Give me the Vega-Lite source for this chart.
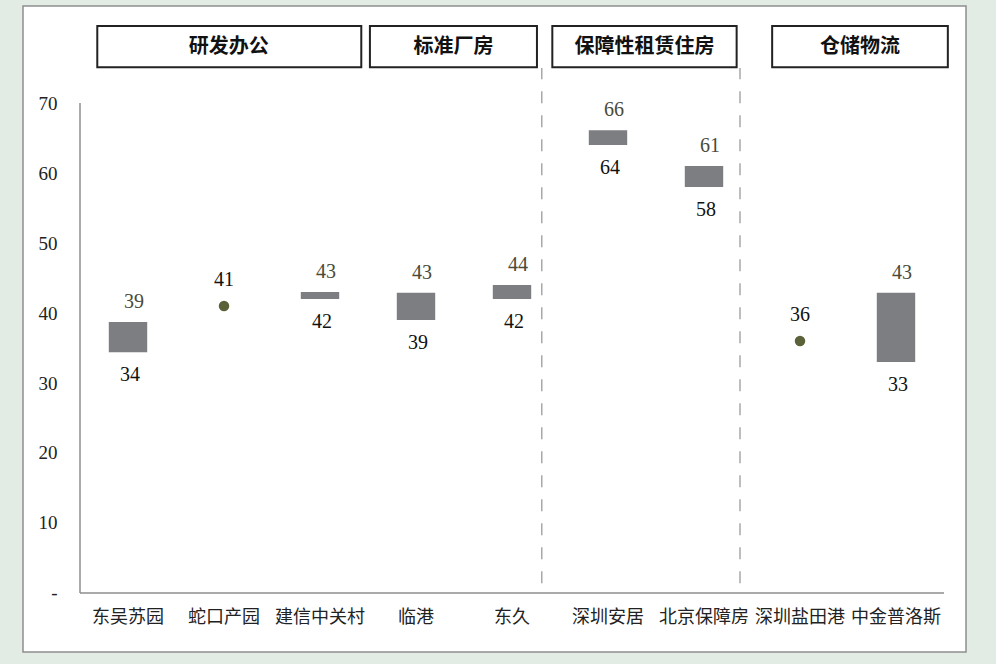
{
  "$schema": "https://vega.github.io/schema/vega-lite/v6.json",
  "width": 943,
  "height": 646,
  "autosize": {"type": "none"},
  "padding": {"left": 23, "top": 6, "right": 30, "bottom": 12},
  "background": "#e3ebe5",
  "config": {"view": {"fill": "white", "stroke": "#8e8e8e", "strokeWidth": 1.5}},
  "datasets": {
    "parks": [
      {"cat": "东吴苏园", "kind": "range", "low": 34.4, "high": 38.7},
      {"cat": "蛇口产园", "kind": "point", "low": 41, "high": 41},
      {"cat": "建信中关村", "kind": "range", "low": 42.0, "high": 43.0},
      {"cat": "临港", "kind": "range", "low": 39.0, "high": 42.9},
      {"cat": "东久", "kind": "range", "low": 42.0, "high": 44.0},
      {"cat": "深圳安居", "kind": "range", "low": 64.0, "high": 66.1},
      {"cat": "北京保障房", "kind": "range", "low": 58.0, "high": 61.0},
      {"cat": "深圳盐田港", "kind": "point", "low": 36, "high": 36},
      {"cat": "中金普洛斯", "kind": "range", "low": 33.0, "high": 42.9}
    ]
  },
  "layer": [
    {
      "data": {"name": "parks"},
      "transform": [{"filter": "datum.kind === 'range'"}],
      "mark": {"type": "bar", "width": {"band": 0.4}, "color": "#7d7e82"},
      "encoding": {
        "x": {"field": "cat", "type": "nominal", "sort": null,
          "scale": {"type": "band", "domain": ["东吴苏园","蛇口产园","建信中关村","临港","东久","深圳安居","北京保障房","深圳盐田港","中金普洛斯"], "paddingInner": 0, "paddingOuter": 0.4115, "align": 0.7215},
          "axis": {"orient": "bottom", "offset": -59, "domain": false, "ticks": false, "grid": false, "title": null, "labelPadding": 15, "labelFont": "Noto Sans CJK SC", "labelFontSize": 18, "labelColor": "#222", "labelAngle": 0}},
        "y": {"field": "low", "type": "quantitative",
          "scale": {"domain": [-8.43, 83.86], "nice": false, "zero": false},
          "axis": {"orient": "left", "offset": -57, "values": [0,10,20,30,40,50,60,70], "labelExpr": "datum.value === 0 ? '-\u00a0\u00a0\u00a0' : datum.label", "domain": false, "ticks": false, "grid": false, "title": null, "labelPadding": 23, "labelFont": "Liberation Serif", "labelFontSize": 19, "labelColor": "#222"}},
        "y2": {"field": "high"}
      }
    },
    {
      "data": {"name": "parks"},
      "transform": [{"filter": "datum.kind === 'point'"}],
      "mark": {"type": "circle", "size": 110, "color": "#5b6239", "opacity": 1},
      "encoding": {
        "x": {"field": "cat", "type": "nominal", "sort": null},
        "y": {"field": "low", "type": "quantitative"}
      }
    },
    {
      "data": {"name": "parks"},
      "transform": [{"filter": "datum.kind === 'range'"}],
      "mark": {"type": "text", "font": "Liberation Serif", "fontSize": 20, "color": "#4a4a3a", "dx": 6, "dy": -20},
      "encoding": {
        "x": {"field": "cat", "type": "nominal", "sort": null},
        "y": {"field": "high", "type": "quantitative"},
        "text": {"field": "high", "type": "quantitative", "format": ".0f"}
      }
    },
    {
      "data": {"name": "parks"},
      "transform": [{"filter": "datum.kind === 'range'"}],
      "mark": {"type": "text", "font": "Liberation Serif", "fontSize": 20, "color": "#111", "dx": 2, "dy": 23},
      "encoding": {
        "x": {"field": "cat", "type": "nominal", "sort": null},
        "y": {"field": "low", "type": "quantitative"},
        "text": {"field": "low", "type": "quantitative", "format": ".0f"}
      }
    },
    {
      "data": {"name": "parks"},
      "transform": [{"filter": "datum.kind === 'point'"}],
      "mark": {"type": "text", "font": "Liberation Serif", "fontSize": 20, "color": "#111", "dy": -26},
      "encoding": {
        "x": {"field": "cat", "type": "nominal", "sort": null},
        "y": {"field": "low", "type": "quantitative"},
        "text": {"field": "low", "type": "quantitative", "format": ".0f"}
      }
    },
    {
      "data": {"values": [{}]},
      "mark": {"type": "rule", "color": "#8e8e8e", "strokeWidth": 1.5},
      "encoding": {
        "x": {"datum": "东吴苏园", "type": "nominal", "bandPosition": 0},
        "y": {"datum": 0, "type": "quantitative"},
        "y2": {"datum": 70}
      }
    },
    {
      "data": {"values": [{}]},
      "mark": {"type": "rule", "color": "#8e8e8e", "strokeWidth": 1.5},
      "encoding": {
        "x": {"datum": "东吴苏园", "type": "nominal", "bandPosition": 0},
        "x2": {"datum": "中金普洛斯", "bandPosition": 1},
        "y": {"datum": 0, "type": "quantitative"}
      }
    },
    {
      "data": {"values": [{}]},
      "mark": {"type": "rule", "color": "#a8a8a8", "strokeWidth": 1.5, "strokeDash": [12, 12]},
      "encoding": {
        "x": {"datum": "东久", "type": "nominal", "bandPosition": 0.81},
        "y": {"datum": 1.4, "type": "quantitative"},
        "y2": {"datum": 75}
      }
    },
    {
      "data": {"values": [{}]},
      "mark": {"type": "rule", "color": "#a8a8a8", "strokeWidth": 1.5, "strokeDash": [12, 12]},
      "encoding": {
        "x": {"datum": "北京保障房", "type": "nominal", "bandPosition": 0.875},
        "y": {"datum": 1.4, "type": "quantitative"},
        "y2": {"datum": 75}
      }
    },
    {
      "data": {"values": [{"group": "研发办公"}]},
      "layer": [
        {
          "mark": {"type": "rect", "fill": "white", "stroke": "#222", "strokeWidth": 2},
          "encoding": {
            "x": {"datum": "东吴苏园", "type": "nominal", "bandPosition": 0.18},
            "x2": {"datum": "建信中关村", "bandPosition": 0.93},
            "y": {"datum": 75.1, "type": "quantitative"},
            "y2": {"datum": 81}
          }
        },
        {
          "mark": {"type": "text", "font": "Noto Sans CJK SC", "fontWeight": "bold", "fontSize": 20, "color": "#111"},
          "encoding": {
            "x": {"datum": "蛇口产园", "type": "nominal", "bandPosition": 0.55},
            "y": {"datum": 78, "type": "quantitative"},
            "text": {"field": "group"}
          }
        }
      ]
    },
    {
      "data": {"values": [{"group": "标准厂房"}]},
      "layer": [
        {
          "mark": {"type": "rect", "fill": "white", "stroke": "#222", "strokeWidth": 2},
          "encoding": {
            "x": {"datum": "临港", "type": "nominal", "bandPosition": 0.02},
            "x2": {"datum": "东久", "bandPosition": 0.76},
            "y": {"datum": 75.1, "type": "quantitative"},
            "y2": {"datum": 81}
          }
        },
        {
          "mark": {"type": "text", "font": "Noto Sans CJK SC", "fontWeight": "bold", "fontSize": 20, "color": "#111"},
          "encoding": {
            "x": {"datum": "临港", "type": "nominal", "bandPosition": 0.89},
            "y": {"datum": 78, "type": "quantitative"},
            "text": {"field": "group"}
          }
        }
      ]
    },
    {
      "data": {"values": [{"group": "保障性租赁住房"}]},
      "layer": [
        {
          "mark": {"type": "rect", "fill": "white", "stroke": "#222", "strokeWidth": 2},
          "encoding": {
            "x": {"datum": "东久", "type": "nominal", "bandPosition": 0.92},
            "x2": {"datum": "北京保障房", "bandPosition": 0.84},
            "y": {"datum": 75.1, "type": "quantitative"},
            "y2": {"datum": 81}
          }
        },
        {
          "mark": {"type": "text", "font": "Noto Sans CJK SC", "fontWeight": "bold", "fontSize": 20, "color": "#111"},
          "encoding": {
            "x": {"datum": "深圳安居", "type": "nominal", "bandPosition": 0.88},
            "y": {"datum": 78, "type": "quantitative"},
            "text": {"field": "group"}
          }
        }
      ]
    },
    {
      "data": {"values": [{"group": "仓储物流"}]},
      "layer": [
        {
          "mark": {"type": "rect", "fill": "white", "stroke": "#222", "strokeWidth": 2},
          "encoding": {
            "x": {"datum": "深圳盐田港", "type": "nominal", "bandPosition": 0.21},
            "x2": {"datum": "中金普洛斯", "bandPosition": 1.04},
            "y": {"datum": 75.1, "type": "quantitative"},
            "y2": {"datum": 81}
          }
        },
        {
          "mark": {"type": "text", "font": "Noto Sans CJK SC", "fontWeight": "bold", "fontSize": 20, "color": "#111"},
          "encoding": {
            "x": {"datum": "中金普洛斯", "type": "nominal", "bandPosition": 0.125},
            "y": {"datum": 78, "type": "quantitative"},
            "text": {"field": "group"}
          }
        }
      ]
    }
  ]
}
